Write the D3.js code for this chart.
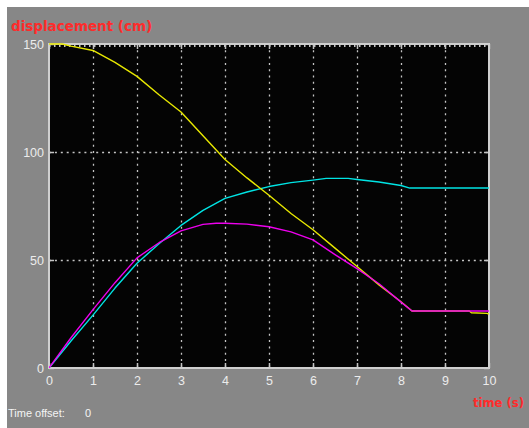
<!DOCTYPE html>
<html>
<head>
<meta charset="utf-8">
<script src="https://cdn.jsdelivr.net/npm/d3@7"></script>
<style>
  html, body { margin: 0; padding: 0; background: #ffffff; }
  svg { display: block; }
</style>
</head>
<body>
<svg id="scope" width="529" height="428"></svg>
<script>
// Displacement traces recorded by the scope (time in s, displacement in cm)
const yellowT = [0, 0.3, 0.5, 1, 1.5, 2, 2.5, 3, 3.5, 4, 4.5, 5, 5.5, 6, 6.5, 7, 7.5, 8, 8.25, 9.55, 9.6, 9.95, 10];
const yellowV = [150, 150, 149, 147, 141.5, 135, 126.5, 118.5, 107.5, 96.5, 88, 80, 71.5, 64, 55.5, 47, 38.5, 30.7, 26.4, 26.4, 25.6, 25.3, 25];

const magentaT = [0, 0.5, 1, 1.5, 2, 2.5, 3, 3.5, 3.8, 4, 4.5, 5, 5.5, 6, 6.5, 7, 7.5, 8, 8.25, 10];
const magentaV = [0, 14, 27, 39.5, 51, 58, 63.5, 66.5, 67, 67, 66.6, 65.4, 63, 59.3, 52.5, 46, 39, 30.5, 26.4, 26.4];

const cyanT = [0, 0.5, 1, 1.5, 2, 2.5, 3, 3.5, 4, 4.5, 5, 5.5, 6, 6.3, 6.8, 7, 7.5, 8, 8.2, 10];
const cyanV = [0, 12.5, 24.5, 37, 48.5, 57.5, 66, 73, 78.5, 81.5, 84, 85.8, 87, 87.8, 87.8, 87.3, 86.1, 84.5, 83.3, 83.3];

const xTicks = [0, 1, 2, 3, 4, 5, 6, 7, 8, 9, 10];
const yTicks = [0, 50, 100, 150];

const yLabel = "displacement (cm)";
const xLabel = "time (s)";

const svg = d3.select("#scope");
const W = 529, H = 428;

// Figure background
svg.append("rect").attr("x", 7).attr("y", 7).attr("width", W - 7).attr("height", H - 7).attr("fill", "#878787");

const x = d3.scaleLinear().domain([0, 10]).range([49, 489]);
const y = d3.scaleLinear().domain([0, 150]).range([368, 44]);

const x0 = x(0), x1 = x(10), y0 = y(0), y1 = y(150);

// Black axes area
svg.append("rect").attr("x", x0).attr("y", y1).attr("width", x1 - x0).attr("height", y0 - y1).attr("fill", "#040404");

const gridColor = "#c4c4c4";
const g = svg.append("g");

// Dotted grid lines
g.selectAll("line.vgrid").data(xTicks.slice(1, -1)).join("line")
  .attr("class", "vgrid")
  .attr("x1", d => x(d) + 0.5).attr("x2", d => x(d) + 0.5)
  .attr("y1", y1).attr("y2", y0)
  .attr("stroke", gridColor).attr("stroke-width", 1.3)
  .attr("stroke-dasharray", "2,4.3");

g.selectAll("line.hgrid").data(yTicks.slice(1, -1)).join("line")
  .attr("class", "hgrid")
  .attr("x1", x0).attr("x2", x1)
  .attr("y1", d => y(d) + 0.5).attr("y2", d => y(d) + 0.5)
  .attr("stroke", gridColor).attr("stroke-width", 1.5)
  .attr("stroke-dasharray", "2,3.9");

// Minor tick pattern along the top edge
g.append("line")
  .attr("x1", x0).attr("x2", x1)
  .attr("y1", y1 + 2).attr("y2", y1 + 2)
  .attr("stroke", gridColor).attr("stroke-width", 2)
  .attr("stroke-dasharray", "1.5,3.5");

// Major ticks on all four sides
g.selectAll("line.btick").data(xTicks).join("line")
  .attr("x1", d => x(d) + 0.5).attr("x2", d => x(d) + 0.5)
  .attr("y1", y0).attr("y2", y0 - 5)
  .attr("stroke", gridColor).attr("stroke-width", 1.5);
g.selectAll("line.ttick").data(xTicks).join("line")
  .attr("x1", d => x(d) + 0.5).attr("x2", d => x(d) + 0.5)
  .attr("y1", y1).attr("y2", y1 + 5)
  .attr("stroke", gridColor).attr("stroke-width", 1.5);
g.selectAll("line.ltick").data(yTicks).join("line")
  .attr("x1", x0).attr("x2", x0 + 5)
  .attr("y1", d => y(d) + 0.5).attr("y2", d => y(d) + 0.5)
  .attr("stroke", gridColor).attr("stroke-width", 1.5);
g.selectAll("line.rtick").data(yTicks).join("line")
  .attr("x1", x1 - 5).attr("x2", x1)
  .attr("y1", d => y(d) + 0.5).attr("y2", d => y(d) + 0.5)
  .attr("stroke", gridColor).attr("stroke-width", 1.5);

// Axes frame
svg.append("rect")
  .attr("x", x0).attr("y", y1).attr("width", x1 - x0).attr("height", y0 - y1)
  .attr("fill", "none").attr("stroke", "#cfcfcf").attr("stroke-width", 2);

// Traces
const line = d3.line().x(d => x(d[0])).y(d => y(d[1]));
const series = [
  { t: cyanT, v: cyanV, color: "#00e4e4" },
  { t: yellowT, v: yellowV, color: "#e8e800" },
  { t: magentaT, v: magentaV, color: "#ee00ee" }
];
svg.append("clipPath").attr("id", "plotclip")
  .append("rect").attr("x", x0).attr("y", y1 - 1).attr("width", x1 - x0).attr("height", y0 - y1 + 1);
svg.append("g").attr("clip-path", "url(#plotclip)")
  .selectAll("path").data(series).join("path")
  .attr("d", s => line(s.t.map((t, i) => [t, s.v[i]])))
  .attr("fill", "none")
  .attr("stroke", s => s.color)
  .attr("stroke-width", 1.4)
  .attr("stroke-linejoin", "round");

// Tick labels
const labelFont = "'Liberation Sans', Arial, sans-serif";
const xAxis = svg.append("g")
  .attr("transform", `translate(0,${y0})`)
  .call(d3.axisBottom(x).tickValues(xTicks).tickSize(0).tickPadding(8).tickFormat(d3.format("d")));
const yAxis = svg.append("g")
  .attr("transform", `translate(${x0},0)`)
  .call(d3.axisLeft(y).tickValues(yTicks).tickSize(0).tickPadding(5).tickFormat(d3.format("d")));
[xAxis, yAxis].forEach(a => {
  a.select(".domain").remove();
  a.selectAll("text")
    .attr("fill", "#ececec")
    .style("font-family", labelFont)
    .style("font-size", "12.5px");
});

// Axis titles
svg.append("text")
  .attr("x", 11).attr("y", 31)
  .attr("fill", "#ff2b2b")
  .style("font-family", "'DejaVu Sans', sans-serif")
  .style("font-weight", "bold")
  .style("font-size", "13.5px")
  .text(yLabel);

svg.append("text")
  .attr("x", 473).attr("y", 407)
  .attr("fill", "#ff2b2b")
  .attr("textLength", 51).attr("lengthAdjust", "spacingAndGlyphs")
  .style("font-family", "'DejaVu Sans', sans-serif")
  .style("font-weight", "bold")
  .style("font-size", "12.5px")
  .text(xLabel);

// Time offset readout
svg.append("text")
  .attr("x", 8).attr("y", 417)
  .attr("fill", "#f4f4f4")
  .style("font-family", labelFont)
  .style("font-size", "11px")
  .text("Time offset:");
svg.append("text")
  .attr("x", 85).attr("y", 417)
  .attr("fill", "#f4f4f4")
  .style("font-family", labelFont)
  .style("font-size", "11px")
  .text("0");
</script>
</body>
</html>
